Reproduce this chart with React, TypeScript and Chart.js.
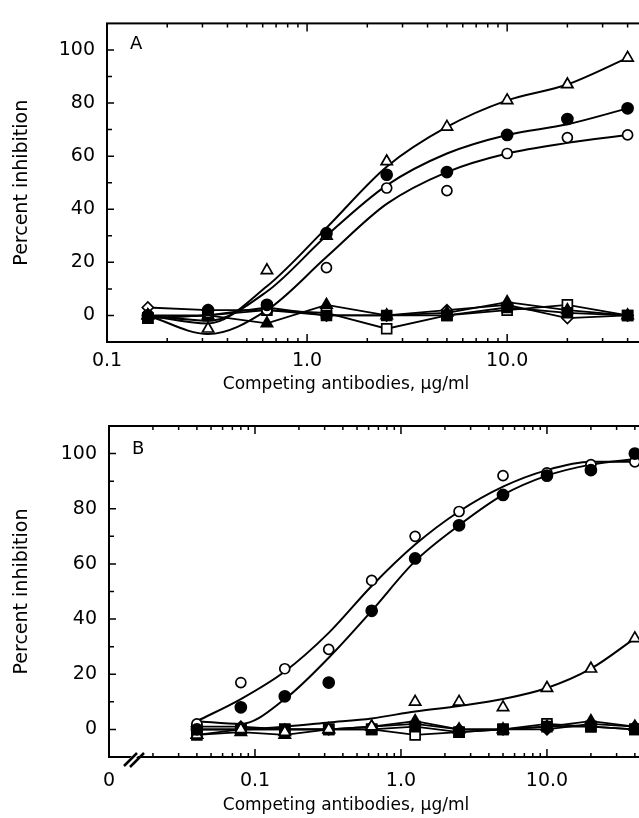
import React, { useEffect, useRef } from "react";
import { Chart, registerables } from "chart.js";

Chart.register(...registerables);

const FONT = "'DejaVu Sans', sans-serif";

// ---------- Panel A ----------
const xA = [0.16, 0.32, 0.63, 1.25, 2.5, 5, 10, 20, 40];
const aOpenTriangle = [0, -5, 17, 30, 58, 71, 81, 87, 97];
const aFilledCircle = [0, 2, 4, 31, 53, 54, 68, 74, 78];
const aOpenCircle = [0, 1, 2, 18, 48, 47, 61, 67, 68];
const aFitOpenTriangle = [0, -3, 11, 33, 56, 71, 81, 87, 97];
const aFitFilledCircle = [0, -2, 9, 30, 49, 61, 68, 72, 78];
const aFitOpenCircle = [0, -7, 2, 22, 42, 54, 61, 65, 68];
const aOpenDiamond = [3, 2, 2, 0, 0, 2, 4, -1, 0];
const aFilledTriangle = [0, 0, -3, 4, 0, 1, 5, 2, 0];
const aOpenSquare = [-1, 0, 2, 1, -5, 0, 2, 4, 0];
const aFilledSquare = [-1, 0, 3, 0, 0, 0, 3, 1, 0];
const aTickValues = [0.1, 1, 10];
const aTickLabels = ["0.1", "1.0", "10.0"];

// ---------- Panel B ----------
const xB = [0.04, 0.08, 0.16, 0.32, 0.63, 1.25, 2.5, 5, 10, 20, 40];
const bOpenCircle = [2, 17, 22, 29, 54, 70, 79, 92, 93, 96, 97];
const bFilledCircle = [0, 8, 12, 17, 43, 62, 74, 85, 92, 94, 100];
const bOpenTriangle = [-2, 0, -1, 0, 1, 10, 10, 8, 15, 22, 33];
const bFitOpenCircle = [3, 11, 21, 35, 52, 67, 79, 88, 94, 97, 97];
const bFitFilledCircle = [3, 2, 11, 26, 43, 61, 74, 85, 92, 96, 98];
const bFitOpenTriangle = [0, 0, 1, 2.5, 4, 6.5, 8.5, 11, 15, 22, 33];
const bFilledSquare = [0, 0, 0, 0, 0, 1, -1, 0, 1, 1, 0];
const bOpenSquare = [-2, 0, 0, 0, 0, -2, -1, 0, 2, 1, 0];
const bFilledTriangle = [-2, -1, -2, 0, 1, 3, 0, 0, 1, 3, 1];
const bFilledDiamond = [1, 1, 0, 0, 1, 2, 0, 0, 0, 2, 1];
const bTickValues = [0.01, 0.1, 1, 10];
const bTickLabels = ["0", "0.1", "1.0", "10.0"];

// ---------- shared axis ticks ----------
const yTickValues = [0, 20, 40, 60, 80, 100];
const yMinorValues = [10, 30, 50, 70, 90];
const X_MAX = 50;
const Y_TITLE = "Percent inhibition";
const X_TITLE = "Competing antibodies, \u03bcg/ml";

function minorsFrom(decades: number[]) {
  const out: number[] = [];
  decades.forEach((d) => {
    for (let m = 2; m <= 9; m++) out.push(d * m);
  });
  return out;
}

const pts = (xs: number[], ys: number[]) => xs.map((x, i) => ({ x, y: ys[i] }));

type Mk = "oc" | "fc" | "ot" | "ft" | "os" | "fs" | "od" | "fd";
const markerStyle: Record<Mk, any> = {
  oc: { pointStyle: "circle", pointRadius: 5, fill: "#fff" },
  fc: { pointStyle: "circle", pointRadius: 5.5, fill: "#000" },
  ot: { pointStyle: "triangle", pointRadius: 6.5, fill: "#fff" },
  ft: { pointStyle: "triangle", pointRadius: 6.5, fill: "#000" },
  os: { pointStyle: "rect", pointRadius: 7, fill: "#fff" },
  fs: { pointStyle: "rect", pointRadius: 7, fill: "#000" },
  od: { pointStyle: "rectRot", pointRadius: 5.5, fill: "#fff" },
  fd: { pointStyle: "rectRot", pointRadius: 5.5, fill: "#000" },
};

function markers(label: string, xs: number[], ys: number[], mk: Mk, line: boolean, order: number) {
  const s = markerStyle[mk];
  return {
    type: "line",
    label,
    data: pts(xs, ys),
    showLine: line,
    borderColor: "#000",
    borderWidth: 1.8,
    tension: 0,
    pointStyle: s.pointStyle,
    pointRadius: s.pointRadius,
    pointBackgroundColor: s.fill,
    pointBorderColor: "#000",
    pointBorderWidth: 1.7,
    order,
  };
}

function curve(label: string, xs: number[], ys: number[]) {
  return {
    type: "line",
    label,
    data: pts(xs, ys),
    borderColor: "#000",
    borderWidth: 2,
    cubicInterpolationMode: "monotone",
    pointRadius: 0,
    order: 20,
  };
}

const framePlugin = {
  id: "frame",
  afterDatasetsDraw(chart: any, _args: any, opts: any) {
    const { ctx, chartArea: ca } = chart;
    const xs = chart.scales.x;
    const ys = chart.scales.y;
    ctx.save();
    ctx.strokeStyle = "#000";
    ctx.lineWidth = 2;
    ctx.strokeRect(ca.left, ca.top, ca.right - ca.left, ca.bottom - ca.top);
    ctx.lineWidth = 1.5;
    ctx.beginPath();
    const xt = (v: number, len: number) => {
      const p = xs.getPixelForValue(v);
      ctx.moveTo(p, ca.bottom);
      ctx.lineTo(p, ca.bottom - len);
      ctx.moveTo(p, ca.top);
      ctx.lineTo(p, ca.top + len);
    };
    opts.xMajor.forEach((v: number) => xt(v, 8));
    opts.xMinor.forEach((v: number) => xt(v, 4));
    yTickValues.forEach((v) => {
      const p = ys.getPixelForValue(v);
      ctx.moveTo(ca.left, p);
      ctx.lineTo(ca.left + 7, p);
    });
    yMinorValues.forEach((v) => {
      const p = ys.getPixelForValue(v);
      ctx.moveTo(ca.left, p);
      ctx.lineTo(ca.left + 5, p);
    });
    ctx.stroke();

    ctx.fillStyle = "#000";
    ctx.font = `18px ${FONT}`;
    ctx.textAlign = "left";
    ctx.textBaseline = "middle";
    ctx.fillText(opts.letter, ca.left + 23, ca.top + opts.letterDy);

    // x-axis title (offset from plot centre as in the source figure)
    ctx.font = `17px ${FONT}`;
    ctx.textAlign = "center";
    ctx.textBaseline = "middle";
    ctx.fillText(X_TITLE, opts.titleX, chart.height - opts.titleFromBottom);

    if (opts.brk) {
      const l = ca.left;
      const b = ca.bottom;
      ctx.fillStyle = "#fff";
      ctx.beginPath();
      ctx.moveTo(l + 18, b + 4);
      ctx.lineTo(l + 25, b - 3);
      ctx.lineTo(l + 31, b - 3);
      ctx.lineTo(l + 24, b + 4);
      ctx.closePath();
      ctx.fill();
      ctx.strokeStyle = "#000";
      ctx.lineWidth = 2.5;
      ctx.beginPath();
      ctx.moveTo(l + 15, b + 9);
      ctx.lineTo(l + 28, b - 4);
      ctx.moveTo(l + 21, b + 10);
      ctx.lineTo(l + 35, b - 4);
      ctx.stroke();
    }
    ctx.restore();
  },
};

function makeConfig(p: any) {
  return {
    type: "line",
    data: { datasets: p.datasets },
    plugins: [framePlugin],
    options: {
      responsive: false,
      animation: false,
      events: [],
      layout: { padding: { top: p.padTop, right: p.padRight, left: 0, bottom: 0 } },
      plugins: {
        legend: { display: false },
        tooltip: { enabled: false },
        frame: {
          xMajor: p.tickValues,
          xMinor: p.minors,
          letter: p.letter,
          letterDy: p.letterDy,
          brk: p.brk,
          titleX: 346,
          titleFromBottom: p.titleFromBottom,
        },
      },
      scales: {
        x: {
          type: "logarithmic",
          min: p.tickValues[0],
          max: X_MAX,
          grid: { display: false, drawTicks: false },
          border: { display: false },
          afterBuildTicks: (s: any) => {
            s.ticks = p.tickValues.map((v: number) => ({ value: v }));
          },
          afterFit: (s: any) => {
            s.height = p.xHeight;
          },
          ticks: {
            autoSkip: false,
            maxRotation: 0,
            minRotation: 0,
            padding: p.xTickPad,
            color: "#000",
            font: { family: FONT, size: 19 },
            callback: (_v: any, i: number) => p.tickLabels[i],
          },
          title: { display: false },
        },
        y: {
          type: "linear",
          min: -10,
          max: 110,
          grid: { display: false, drawTicks: false },
          border: { display: false },
          afterBuildTicks: (s: any) => {
            s.ticks = yTickValues.map((v) => ({ value: v }));
          },
          afterFit: (s: any) => {
            s.width = p.yWidth;
          },
          ticks: {
            padding: 12,
            color: "#000",
            font: { family: FONT, size: 19 },
          },
          title: {
            display: true,
            text: Y_TITLE,
            color: "#000",
            font: { family: FONT, size: 19 },
            padding: { top: 11, bottom: 0 },
          },
        },
      },
    },
  };
}

const datasetsA = [
  markers("open circle", xA, aOpenCircle, "oc", false, 2),
  markers("filled circle", xA, aFilledCircle, "fc", false, 1),
  markers("open triangle", xA, aOpenTriangle, "ot", false, 2),
  markers("open diamond", xA, aOpenDiamond, "od", true, 8),
  markers("open square", xA, aOpenSquare, "os", true, 7),
  markers("filled triangle", xA, aFilledTriangle, "ft", true, 6),
  markers("filled square", xA, aFilledSquare, "fs", true, 5),
  curve("fit open triangle", xA, aFitOpenTriangle),
  curve("fit filled circle", xA, aFitFilledCircle),
  curve("fit open circle", xA, aFitOpenCircle),
];

const datasetsB = [
  markers("open circle", xB, bOpenCircle, "oc", false, 2),
  markers("filled circle", xB, bFilledCircle, "fc", false, 1),
  markers("open triangle", xB, bOpenTriangle, "ot", false, 2),
  markers("open square", xB, bOpenSquare, "os", true, 8),
  markers("filled diamond", xB, bFilledDiamond, "fd", true, 7),
  markers("filled triangle", xB, bFilledTriangle, "ft", true, 6),
  markers("filled square", xB, bFilledSquare, "fs", true, 5),
  curve("fit open circle", xB, bFitOpenCircle),
  curve("fit filled circle", xB, bFitFilledCircle),
  curve("fit open triangle", xB, bFitOpenTriangle),
];

const panelA = {
  datasets: datasetsA,
  tickValues: aTickValues,
  tickLabels: aTickLabels,
  minors: minorsFrom([0.1, 1, 10]),
  letter: "A",
  letterDy: 21,
  brk: false,
  padTop: 13,
  padRight: 13,
  xHeight: 58,
  yWidth: 107,
  xTickPad: 8,
  titleFromBottom: 15,
};

const panelB = {
  datasets: datasetsB,
  tickValues: bTickValues,
  tickLabels: bTickLabels,
  minors: minorsFrom([0.01, 0.1, 1, 10]),
  letter: "B",
  letterDy: 23,
  brk: true,
  padTop: 26,
  padRight: 12,
  xHeight: 61,
  yWidth: 109,
  xTickPad: 13,
  titleFromBottom: 12,
};

function Panel({ cfg, top, width, height }: any) {
  const ref = useRef<HTMLCanvasElement | null>(null);
  useEffect(() => {
    if (!ref.current) return;
    const chart = new Chart(ref.current, makeConfig(cfg) as any);
    return () => chart.destroy();
  }, [cfg]);
  return (
    <canvas
      ref={ref}
      width={width}
      height={height}
      style={{ position: "absolute", left: 0, top, width, height }}
    />
  );
}

export default function App() {
  return (
    <div
      style={{
        position: "absolute",
        left: 0,
        top: 0,
        width: 639,
        height: 818,
        overflow: "hidden",
        background: "#fff",
      }}
    >
      <Panel cfg={panelA} top={0} width={660} height={400} />
      <Panel cfg={panelB} top={400} width={661} height={418} />
    </div>
  );
}
